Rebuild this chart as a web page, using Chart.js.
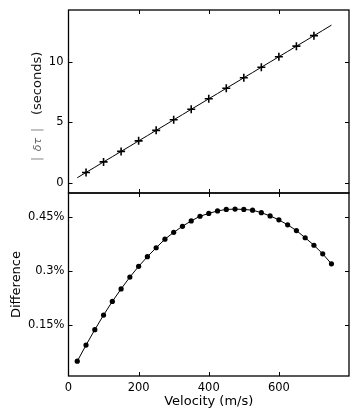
<!DOCTYPE html>
<html>
<head>
<meta charset="utf-8">
<script src="https://cdn.jsdelivr.net/npm/chart.js@4.4.1/dist/chart.umd.min.js"></script>
<style>
  html, body { margin: 0; padding: 0; background: #fff; }
  #wrap { position: relative; width: 360px; height: 420px; overflow: hidden; }
  #topBox { position: absolute; left: 0; top: 0; width: 360px; height: 200px; }
  #botBox { position: absolute; left: 0; top: 186px; width: 360px; height: 234px; }
</style>
</head>
<body>
<div id="wrap">
  <div id="topBox"><canvas id="topChart"></canvas></div>
  <div id="botBox"><canvas id="botChart"></canvas></div>
</div>
<script>
// ---- data ----
const velocity = [25, 50, 75, 100, 125, 150, 175, 200, 225, 250, 275, 300, 325, 350, 375,
                  400, 425, 450, 475, 500, 525, 550, 575, 600, 625, 650, 675, 700, 725, 750];
const delaySeconds = [0.43, 0.87, 1.30, 1.74, 2.17, 2.61, 3.04, 3.48, 3.91, 4.35, 4.78, 5.22, 5.65, 6.09, 6.52,
                      6.96, 7.39, 7.83, 8.26, 8.70, 9.13, 9.57, 10.00, 10.44, 10.87, 11.31, 11.74, 12.18, 12.61, 13.05];
const markerVelocity = [50, 100, 150, 200, 250, 300, 350, 400, 450, 500, 550, 600, 650, 700];
const markerDelay = [0.87, 1.74, 2.61, 3.48, 4.35, 5.22, 6.09, 6.96, 7.83, 8.70, 9.57, 10.44, 11.31, 12.18];
const differencePct = [0.048, 0.093, 0.136, 0.177, 0.215, 0.250, 0.283, 0.313, 0.340, 0.365, 0.389, 0.408, 0.425, 0.440, 0.453,
                       0.461, 0.468, 0.472, 0.473, 0.472, 0.470, 0.463, 0.454, 0.443, 0.429, 0.413, 0.393, 0.372, 0.348, 0.320];
const xTicks = [0, 200, 400, 600];
const topYTicks = [0, 5, 10];
const botYTicks = [0.15, 0.3, 0.45];
const topYTitleSymbol = 'δτ';
const topYTitleUnit = '(seconds)';
const botYTitle = 'Difference';
const xTitle = 'Velocity (m/s)';

const FONT = 'DejaVu Sans';
const INK = '#000';

function pts(xs, ys) { return xs.map((x, i) => ({ x: x, y: ys[i] })); }
function noPad(s) { s.paddingTop = 0; s.paddingBottom = 0; s.paddingLeft = 0; s.paddingRight = 0; }

// inward tick marks on all four sides plus frame
const frameTicks = {
  id: 'frameTicks',
  afterDraw(chart) {
    const ctx = chart.ctx, a = chart.chartArea;
    const xs = chart.scales.x, ys = chart.scales.y;
    const L = 4;
    ctx.save();
    ctx.strokeStyle = INK;
    ctx.lineWidth = 1;
    ctx.beginPath();
    xs.ticks.forEach(t => {
      const px = Math.round(xs.getPixelForValue(t.value)) + 0.5;
      if (px <= a.left + 1 || px >= a.right - 1) return;
      ctx.moveTo(px, a.top); ctx.lineTo(px, a.top + L);
      ctx.moveTo(px, a.bottom); ctx.lineTo(px, a.bottom - L);
    });
    ys.ticks.forEach(t => {
      const py = Math.round(ys.getPixelForValue(t.value)) + 0.5;
      if (py <= a.top + 1 || py >= a.bottom - 1) return;
      ctx.moveTo(a.left, py); ctx.lineTo(a.left + L, py);
      ctx.moveTo(a.right, py); ctx.lineTo(a.right - L, py);
    });
    ctx.stroke();
    ctx.lineWidth = 1.3;
    ctx.strokeRect(a.left, a.top, a.right - a.left, a.bottom - a.top);
    ctx.restore();
  }
};

// y-axis title of the top panel: gray math symbol |δτ| followed by "(seconds)"
const mathTitle = {
  id: 'mathTitle',
  afterDraw(chart) {
    const ctx = chart.ctx;
    const cx = 38, base = 161;   // rotated text starts at the bottom
    ctx.save();
    ctx.translate(cx, base);
    ctx.rotate(-Math.PI / 2);
    ctx.textBaseline = 'middle';
    ctx.fillStyle = '#8a8a8a';
    ctx.font = '12px ' + FONT;
    ctx.textAlign = 'left';
    ctx.fillText('|', 0, 0);
    ctx.textAlign = 'right';
    ctx.fillText('|', 33, 0);
    ctx.font = 'italic 11px ' + FONT;
    ctx.fillStyle = '#666';
    ctx.textAlign = 'center';
    ctx.fillText(topYTitleSymbol, 16.5, 0.5);
    ctx.font = '13px ' + FONT;
    ctx.fillStyle = '#111';
    ctx.textAlign = 'left';
    ctx.fillText(topYTitleUnit, 46, 0);
    ctx.restore();
  }
};

Chart.defaults.font.family = FONT;
Chart.defaults.color = INK;

new Chart(document.getElementById('topChart'), {
  type: 'line',
  data: {
    datasets: [
      { data: pts(velocity, delaySeconds), borderColor: INK, borderWidth: 1, pointRadius: 0, tension: 0, clip: false },
      { data: pts(markerVelocity, markerDelay), showLine: false, pointStyle: 'cross', pointRadius: 4,
        borderColor: INK, pointBorderWidth: 1.6, backgroundColor: INK }
    ]
  },
  options: {
    responsive: true, maintainAspectRatio: false, animation: false,
    layout: { padding: { top: 10, right: 11, bottom: 7, left: 0 } },
    plugins: { legend: { display: false }, tooltip: { enabled: false } },
    scales: {
      x: { type: 'linear', min: 0, max: 800, display: false,
           afterBuildTicks: s => { s.ticks = xTicks.map(v => ({ value: v })); } },
      y: { type: 'linear', min: -0.83, max: 14.3,
           afterBuildTicks: s => { s.ticks = topYTicks.map(v => ({ value: v })); },
           afterFit: s => { s.width = 68.5; noPad(s); },
           grid: { display: false, drawTicks: false }, border: { display: false },
           ticks: { font: { size: 11.5 }, padding: 5, color: INK },
           title: { display: false } }
    }
  },
  plugins: [frameTicks, mathTitle]
});

new Chart(document.getElementById('botChart'), {
  type: 'line',
  data: {
    datasets: [
      { data: pts(velocity, differencePct), borderColor: INK, borderWidth: 1, pointRadius: 2.6,
        pointBackgroundColor: INK, pointBorderColor: INK, pointBorderWidth: 0, tension: 0 }
    ]
  },
  options: {
    responsive: true, maintainAspectRatio: false, animation: false,
    layout: { padding: { top: 7, right: 11, bottom: 0, left: 0 } },
    plugins: { legend: { display: false }, tooltip: { enabled: false } },
    scales: {
      x: { type: 'linear', min: 0, max: 800,
           afterBuildTicks: s => { s.ticks = xTicks.map(v => ({ value: v })); },
           afterFit: s => { s.height = 44; noPad(s); },
           grid: { display: false, drawTicks: false }, border: { display: false },
           ticks: { font: { size: 11.5 }, padding: 5, color: INK, maxRotation: 0 },
           title: { display: true, text: xTitle, font: { size: 13 }, color: INK, padding: { top: 0, bottom: 10.5 } } },
      y: { type: 'linear', min: 0.0067, max: 0.518,
           afterBuildTicks: s => { s.ticks = botYTicks.map(v => ({ value: v })); },
           afterFit: s => { s.width = 68.5; noPad(s); },
           grid: { display: false, drawTicks: false }, border: { display: false },
           ticks: { font: { size: 11.5 }, padding: 4, color: INK, callback: v => v + '%' },
           title: { display: true, text: botYTitle, font: { size: 13 }, color: INK, padding: { top: 9, bottom: 0 } } }
    }
  },
  plugins: [frameTicks]
});
</script>
</body>
</html>
